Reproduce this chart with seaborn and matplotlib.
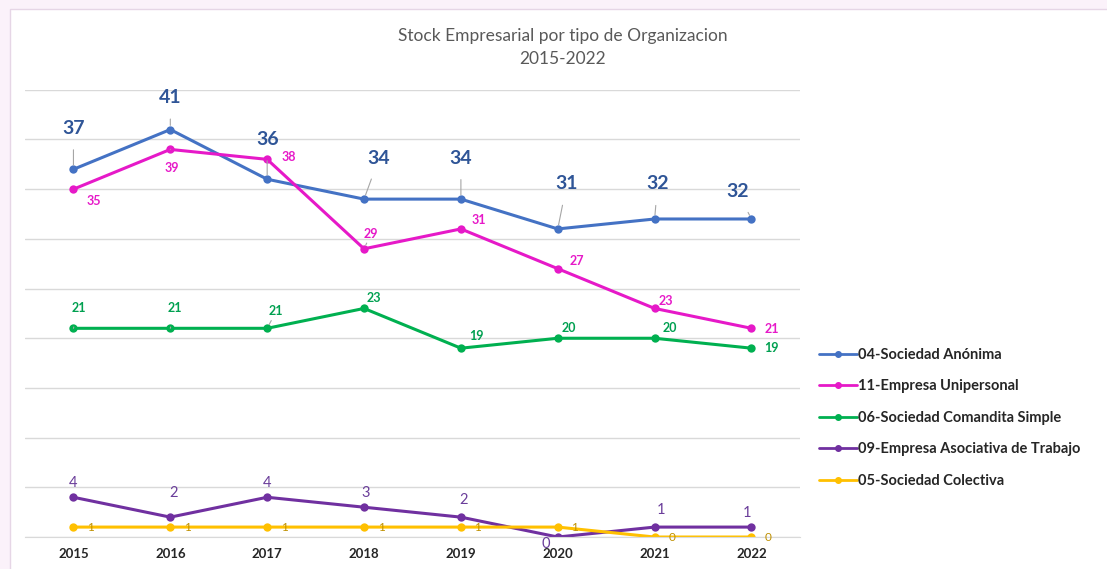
import seaborn as sns
import matplotlib.pyplot as plt
from matplotlib.patches import Rectangle
import pandas as pd

years = ["2015", "2016", "2017", "2018", "2019", "2020", "2021", "2022"]
series = ["04-Sociedad Anónima", "11-Empresa Unipersonal", "06-Sociedad Comandita Simple",
          "09-Empresa Asociativa de Trabajo", "05-Sociedad Colectiva"]
anonima = [37, 41, 36, 34, 34, 31, 32, 32]
unipersonal = [35, 39, 38, 29, 31, 27, 23, 21]
comandita = [21, 21, 21, 23, 19, 20, 20, 19]
asociativa = [4, 2, 4, 3, 2, 0, 1, 1]
colectiva = [1, 1, 1, 1, 1, 1, 0, 0]

colors = ["#4472C4", "#E619C8", "#00B050", "#7030A0", "#FFC000"]

# label offsets in pixels (dx, dy) per series
offsets = [
    [(0, 41), (0, 32), (0, 40), (15, 41), (0, 41), (9, 45), (3, 35), (-14, 27)],
    [(20, -12), (2, -19), (22, 2), (7, 15), (18, 9), (19, 8), (11, 7), (20, -1)],
    [(5, 20), (5, 20), (9, 17), (10, 10), (16, 12), (11, 10), (15, 10), (20, 0)],
    [(0, 14), (3, 24), (0, 14), (2, 14), (3, 17), (-12, -7), (6, 17), (-4, 14)],
    [(17, 0)] * 8,
]
label_style = [
    dict(fontsize=14, fontweight="bold", color="#2F5597"),
    dict(fontsize=9, fontweight="bold", color="#E619C8"),
    dict(fontsize=9, fontweight="bold", color="#00A050"),
    dict(fontsize=10.5, color="#6A3D9A"),
    dict(fontsize=8.5, color="#BF9000"),
]
leader = [True, True, True, False, False]

values = [anonima, unipersonal, comandita, asociativa, colectiva]
df = pd.DataFrame({
    "year": years * len(series),
    "x": list(range(len(years))) * len(series),
    "serie": [s for s in series for _ in years],
    "valor": [v for vals in values for v in vals],
})

sns.set_style("white")
plt.rcParams["font.family"] = ["Lato", "DejaVu Sans"]

fig = plt.figure(figsize=(11.07, 5.69), dpi=100)
fig.patch.set_facecolor("#FBF2FA")
fig.add_artist(Rectangle((0.009, -0.01), 1.0, 0.995, transform=fig.transFigure,
                         facecolor="white", edgecolor="#E6D6E6", linewidth=1, zorder=0))
ax = fig.add_axes([0.0226, 0.0562, 0.70, 0.786])
ax.set_facecolor("none")

sns.lineplot(data=df, x="x", y="valor", hue="serie", palette=colors, hue_order=series,
             marker="o", markersize=6, markeredgewidth=0, linewidth=2.2, ax=ax, legend=False)

for vals, offs, st, ld, col in zip(values, offsets, label_style, leader, colors):
    for i, (v, (dx, dy)) in enumerate(zip(vals, offs)):
        kw = {}
        if ld and abs(dy) > 12:
            kw["arrowprops"] = dict(arrowstyle="-", color="#A6A6A6", lw=0.8, shrinkA=7, shrinkB=3)
        ax.annotate(str(v), (i, v), xytext=(dx, dy), textcoords="offset pixels",
                    ha="center", va="center", **st, **kw)

ax.set_xlim(-0.5, 7.5)
ax.set_ylim(0, 45)
ax.set_yticks(range(0, 46, 5))
ax.yaxis.grid(True, color="#D9D9D9", linewidth=1)
ax.set_yticklabels([])
ax.tick_params(axis="y", length=0)
ax.set_xticks(range(len(years)))
ax.set_xticklabels(years, fontsize=9.5, fontweight="bold")
ax.tick_params(axis="x", length=0, pad=8)
ax.set_xlabel("")
ax.set_ylabel("")
for s in ["top", "right", "left"]:
    ax.spines[s].set_visible(False)
ax.spines["bottom"].set_color("#D9D9D9")

fig.text(0.508, 0.917, "Stock Empresarial por tipo de Organizacion\n2015-2022",
         ha="center", va="center", fontsize=12.5, color="#595959", linespacing=1.55)

handles = [plt.Line2D([], [], color=c, marker="o", markersize=4, lw=2) for c in colors]
fig.legend(handles, series, loc="upper left", bbox_to_anchor=(0.728, 0.412), frameon=False,
           handlelength=2.6, handletextpad=0.1, labelspacing=1.2,
           prop={"weight": "bold", "size": 10.5})

fig.savefig("out.png", dpi=100, facecolor=fig.get_facecolor())
